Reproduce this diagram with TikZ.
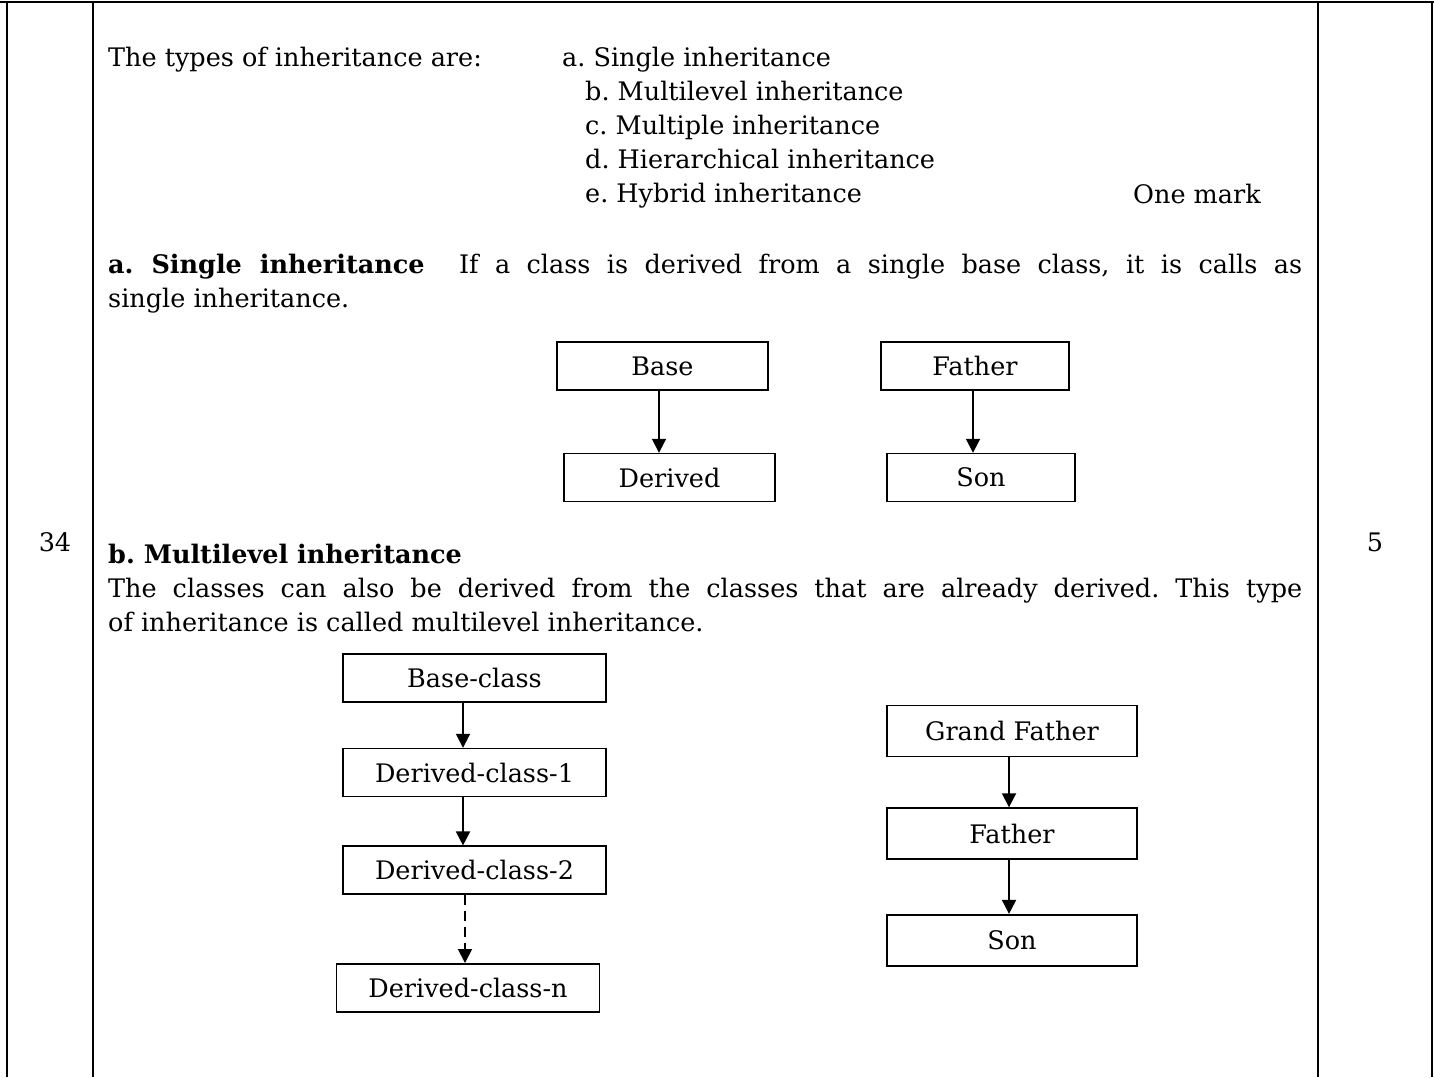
\documentclass[tikz,border=0pt]{standalone}
\usepackage{fontspec}
\setmainfont{DejaVu Serif}
\usetikzlibrary{arrows.meta,positioning}
\newcommand{\bodysize}{\fontsize{25.5pt}{34pt}\selectfont\frenchspacing}
\tikzset{
  rule line/.style={line width=2.4pt},
  body text/.style={anchor=base west,inner sep=0pt,font=\bodysize},
  class box/.style={draw,line width=1.6pt,minimum height=48pt,inner sep=0pt,font=\bodysize},
  inherit/.style={line width=1.8pt,-{Triangle[length=14pt,width=14pt]}}
}

\begin{document}
\begin{tikzpicture}[x=1pt,y=-1pt]
  \useasboundingbox (0,0) rectangle (1434,1077);

  % table rules
  \draw[rule line] (0,2) -- (1434,2);
  \draw[rule line] (7,2) -- (7,1077) (93,2) -- (93,1077)
        (1318,2) -- (1318,1077) (1432,2) -- (1432,1077);
  \node[body text,anchor=base] (qno) at (55,551) {34};
  \node[body text,anchor=base] (marks) at (1375,551) {5};

  % list of types
  \node[body text] (types) at (108,66) {The types of inheritance are:};
  \node[body text] (ta) at (562,66) {a. Single inheritance};
  \foreach \n/\t [count=\i] in {tb/b. Multilevel inheritance,tc/c. Multiple inheritance,
      td/d. Hierarchical inheritance,te/e. Hybrid inheritance}
    \node[body text] (\n) at (585,{66+34.2*\i}) {\t};
  \node[body text] (mark) at (1133,203) {One mark};

  % single inheritance
  \node[body text] (singlehead) at (108,273) {\hbox to 1194pt{\textbf{a. Single inheritance}\hspace{18pt} If a class is derived from a single base class, it is calls as}};
  \node[body text] (singlerest) at (108,307) {single inheritance.};

  \node[class box,minimum width=211pt] (base) at (662.5,366) {Base};
  \node[class box,minimum width=211pt,below=62pt of base,xshift=7pt] (derived) {Derived};
  \node[class box,minimum width=188pt] (father) at (975,366) {Father};
  \node[class box,minimum width=188pt,below=62pt of father,xshift=6pt] (son) {Son};
  \draw[inherit] ([xshift=-3.5pt]base.south) -- ([xshift=-3.5pt]base.south |- derived.north);
  \draw[inherit] ([xshift=-2pt]father.south) -- ([xshift=-2pt]father.south |- son.north);

  % multilevel inheritance
  \node[body text] (multihead) at (108,563) {\textbf{b. Multilevel inheritance}};
  \node[body text] (multione) at (108,597) {\hbox to 1194pt{The classes can also be derived from the classes that are already derived. This type}};
  \node[body text] (multitwo) at (108,631) {of inheritance is called multilevel inheritance.};

  \node[class box,minimum width=263pt] (bc) at (474.5,678) {Base-class};
  \node[class box,minimum width=263pt,below=45pt of bc] (dc1) {Derived-class-1};
  \node[class box,minimum width=263pt,below=48pt of dc1] (dc2) {Derived-class-2};
  \node[class box,minimum width=263pt,below=68pt of dc2,xshift=-6.5pt] (dcn) {Derived-class-n};
  \draw[inherit] ([xshift=-11.5pt]bc.south) -- ([xshift=-11.5pt]bc.south |- dc1.north);
  \draw[inherit] ([xshift=-11.5pt]dc1.south) -- ([xshift=-11.5pt]dc1.south |- dc2.north);
  \draw[inherit,dash pattern=on 10pt off 6pt] ([xshift=-9.5pt]dc2.south) -- ([xshift=-9.5pt]dc2.south |- dcn.north);

  \node[class box,minimum width=250pt,minimum height=51pt] (gf) at (1012,731) {Grand Father};
  \node[class box,minimum width=250pt,minimum height=51pt,below=50pt of gf] (gfather) {Father};
  \node[class box,minimum width=250pt,minimum height=51pt,below=54pt of gfather] (gson) {Son};
  \draw[inherit] ([xshift=-3pt]gf.south) -- ([xshift=-3pt]gf.south |- gfather.north);
  \draw[inherit] ([xshift=-3pt]gfather.south) -- ([xshift=-3pt]gfather.south |- gson.north);
\end{tikzpicture}
\end{document}
